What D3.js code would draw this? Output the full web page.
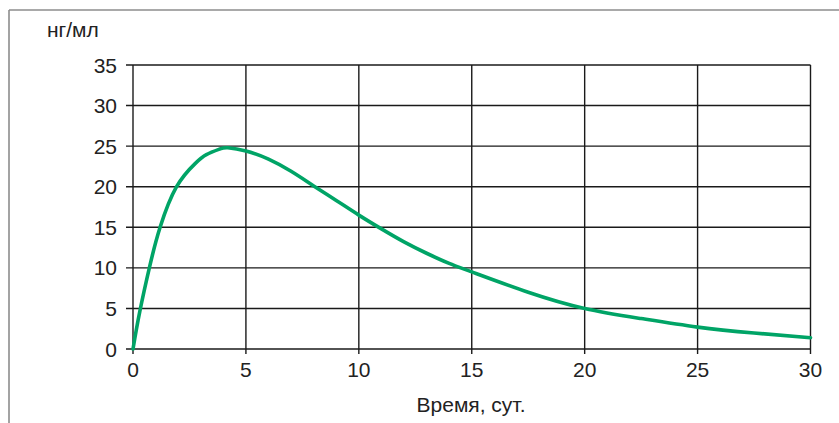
<!DOCTYPE html>
<html><head><meta charset="utf-8">
<script src="https://cdn.jsdelivr.net/npm/d3@7"></script>
<style>html,body{margin:0;padding:0;background:#fff;}svg{display:block;}</style>
</head><body>
<script>
// Data
const days = [0, 0.3, 0.75, 1.2, 1.93, 2.75, 3.25, 3.85, 4.2, 5, 6, 7, 8, 9, 10, 11, 12, 13, 14, 15, 17.5, 20, 22.5, 25, 27.5, 30];
const conc = [0, 4.6, 10.3, 15, 20, 22.85, 23.95, 24.65, 24.8, 24.4, 23.4, 21.9, 20.1, 18.3, 16.5, 14.8, 13.2, 11.8, 10.55, 9.5, 7.0, 5.0, 3.75, 2.7, 1.97, 1.39];
const xTicks = [0, 5, 10, 15, 20, 25, 30];
const yTicks = [0, 5, 10, 15, 20, 25, 30, 35];
const yUnit = "нг/мл";
const xTitle = "Время, сут.";

const W = 839, H = 423;
const svg = d3.select("body").append("svg").attr("width", W).attr("height", H);
const font = "'Liberation Sans', Arial, Helvetica, sans-serif";

// outer frame (top and left edges)
svg.append("line").attr("x1", 9).attr("x2", W).attr("y1", 10).attr("y2", 10)
  .attr("stroke", "#8c8c8c").attr("stroke-width", 1.6);
svg.append("line").attr("x1", 9).attr("x2", 9).attr("y1", 10).attr("y2", H)
  .attr("stroke", "#8c8c8c").attr("stroke-width", 1.6);

const x = d3.scaleLinear().domain([0, 30]).range([133, 810.5]);
const y = d3.scaleLinear().domain([0, 35]).range([349, 65]);

const g = svg.append("g");
// grid
g.selectAll("line.h").data(yTicks).join("line").attr("class", "h")
  .attr("x1", 126).attr("x2", x(30)).attr("y1", d => y(d)).attr("y2", d => y(d))
  .attr("stroke", "#1a1a1a").attr("stroke-width", 1.4);
g.selectAll("line.v").data(xTicks).join("line").attr("class", "v")
  .attr("x1", d => x(d)).attr("x2", d => x(d)).attr("y1", y(35)).attr("y2", y(0) + 5)
  .attr("stroke", "#1a1a1a").attr("stroke-width", 1.4);

// labels
g.selectAll("text.yl").data(yTicks).join("text").attr("class", "yl")
  .attr("x", 117).attr("y", d => y(d) + 7.5).attr("text-anchor", "end")
  .attr("font-family", font).attr("font-size", 21).attr("fill", "#222").text(d => d);
g.selectAll("text.xl").data(xTicks).join("text").attr("class", "xl")
  .attr("x", d => x(d)).attr("y", 377).attr("text-anchor", "middle")
  .attr("font-family", font).attr("font-size", 21).attr("fill", "#222").text(d => d);

svg.append("text").attr("x", 47).attr("y", 36.5)
  .attr("font-family", font).attr("font-size", 21).attr("fill", "#222").text(yUnit);
svg.append("text").attr("x", 471).attr("y", 411.5).attr("text-anchor", "middle")
  .attr("font-family", font).attr("font-size", 21).attr("fill", "#222").text(xTitle);

// curve
const pts = days.map((d, i) => [d, conc[i]]);
const line = d3.line().x(d => x(d[0])).y(d => y(d[1])).curve(d3.curveNatural);
svg.append("path").datum(pts).attr("d", line).attr("fill", "none")
  .attr("stroke", "#00a466").attr("stroke-width", 3.6).attr("stroke-linecap", "round");
</script>
</body></html>
